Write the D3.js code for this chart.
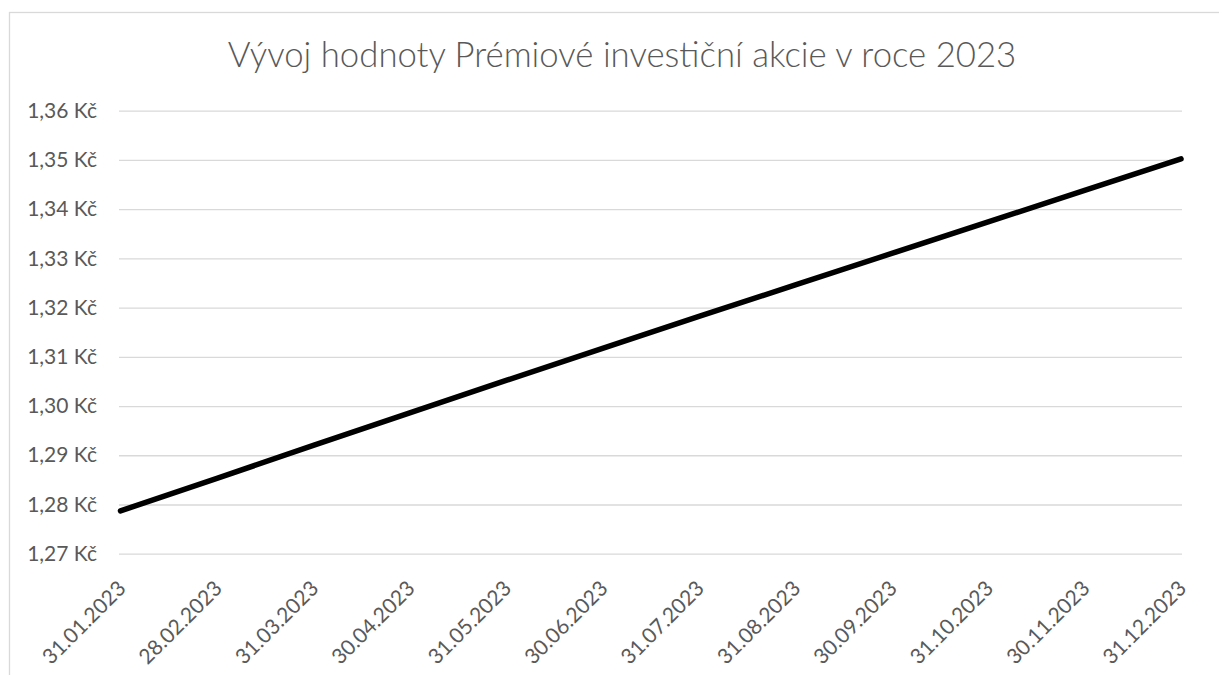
<!DOCTYPE html>
<html>
<head>
<meta charset="utf-8">
<script src="https://cdn.jsdelivr.net/npm/d3@7"></script>
<style>
  body { margin: 0; background: #fff; }
  svg { display: block; }
  text { font-family: Lato, "Open Sans", sans-serif; fill: #595959; }
</style>
</head>
<body>
<script>
var svgwidth = 1219,
    svgheight = 675;

// Data
var dates = ["31.01.2023", "28.02.2023", "31.03.2023", "30.04.2023", "31.05.2023", "30.06.2023",
             "31.07.2023", "31.08.2023", "30.09.2023", "31.10.2023", "30.11.2023", "31.12.2023"];
var values = [1.2787, 1.2853, 1.2920, 1.2986, 1.3052, 1.3117,
              1.3182, 1.3246, 1.3310, 1.3374, 1.3438, 1.3502];
var yTicks = [1.27, 1.28, 1.29, 1.30, 1.31, 1.32, 1.33, 1.34, 1.35, 1.36];
var title = "Vývoj hodnoty Prémiové investiční akcie v roce 2023";

var svg = d3.select("body").append("svg")
    .attr("width", svgwidth)
    .attr("height", svgheight);

// chart border (runs off the right and bottom of the picture)
svg.append("rect")
    .attr("x", 9.5).attr("y", 12.5)
    .attr("width", 1240).attr("height", 700)
    .attr("fill", "#fff")
    .attr("stroke", "#d9d9d9")
    .attr("stroke-width", 1.3);

var plot = {left: 119, right: 1182, top: 110.7, bottom: 553.7};

var x = d3.scalePoint().domain(dates).range([120.5, 1181]);
var y = d3.scaleLinear().domain([1.27, 1.36]).range([plot.bottom, plot.top]);

//Title, fitted to the width it has in the picture
var t = svg.append("text")
    .attr("x", 622)
    .attr("y", 66.5)
    .attr("text-anchor", "middle")
    .style("font-size", "31px")
    .style("font-weight", 300)
    .text(title);
var tw = t.node().getComputedTextLength();
t.style("font-size", (31 * 789 / tw) + "px");

//Gridlines and y labels
var yAxis = svg.append("g")
    .attr("transform", "translate(" + plot.left + ",0)")
    .call(d3.axisLeft(y)
        .tickValues(yTicks)
        .tickSize(-(plot.right - plot.left))
        .tickPadding(22)
        .tickFormat(function(d) { return d.toFixed(2).replace(".", ",") + " Kč"; }));
yAxis.select(".domain").remove();
yAxis.selectAll("line")
    .attr("stroke", "#d9d9d9")
    .attr("stroke-width", 1.3);
yAxis.selectAll("text")
    .attr("fill", "#595959")
    .style("font-size", "21px")
    .style("font-family", "Lato, 'Open Sans', sans-serif");

//x labels, rotated
var xAxis = svg.append("g")
    .attr("transform", "translate(0," + plot.bottom + ")")
    .call(d3.axisBottom(x).tickSize(0));
xAxis.select(".domain").remove();
xAxis.selectAll("text")
    .attr("fill", "#595959")
    .attr("y", 0)
    .attr("dy", 0)
    .attr("text-anchor", "end")
    .attr("transform", "translate(6,36) rotate(-45)")
    .style("font-size", "21px")
    .style("font-family", "Lato, 'Open Sans', sans-serif");

//The line
var line = d3.line()
    .x(function(d, i) { return x(dates[i]); })
    .y(function(d) { return y(d); });

svg.append("path")
    .datum(values)
    .attr("d", line)
    .attr("fill", "none")
    .attr("stroke", "#000")
    .attr("stroke-width", 5.5)
    .attr("stroke-linecap", "round")
    .attr("stroke-linejoin", "round");
</script>
</body>
</html>
